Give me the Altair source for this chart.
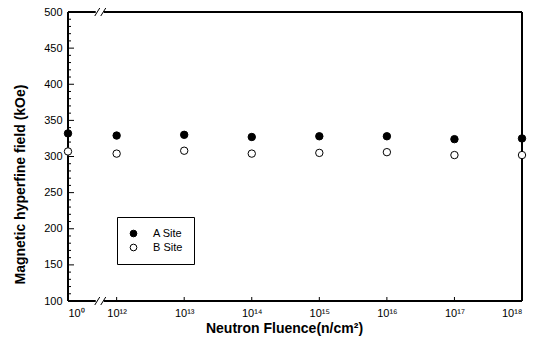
import altair as alt
import pandas as pd

# ---- data ----
tick_positions = [11.28, 12, 13, 14, 15, 16, 17, 18]
tick_labels = ["10⁰", "10¹²", "10¹³", "10¹⁴", "10¹⁵", "10¹⁶", "10¹⁷", "10¹⁸"]
a_site = [332, 329, 330, 327, 328, 328, 324, 325]
b_site = [307, 304, 308, 304, 305, 306, 302, 302]
y_major = [100, 150, 200, 250, 300, 350, 400, 450, 500]
y_minor = [v for v in range(110, 500, 10) if v % 50 != 0]
break_at = [11.75]

W, H = 454, 289
FONT = "Liberation Sans"

df = pd.DataFrame({
    "x": tick_positions * 2,
    "y": a_site + b_site,
    "site": ["A Site"] * len(a_site) + ["B Site"] * len(b_site),
})

xscale = alt.Scale(domain=[11.28, 18], nice=False, zero=False)
yscale = alt.Scale(domain=[100, 500], nice=False, zero=False)

label_expr = f"{tick_labels}[indexof({tick_positions}, datum.value)]"

xaxis = alt.Axis(values=tick_positions, labelExpr=label_expr, domain=False, ticks=False,
                 grid=False, title="Neutron Fluence(n/cm²)", labelPadding=6,
                 labelFont=FONT, labelFontSize=11, titleFont=FONT, titleFontSize=14,
                 titleFontWeight="bold", titlePadding=3, titleX=216,
                 labelColor="black", titleColor="black")
yaxis = alt.Axis(values=y_major, domain=False, ticks=False, grid=False,
                 title="Magnetic hyperfine field (kOe)", labelPadding=6,
                 labelFont=FONT, labelFontSize=11, titleFont=FONT, titleFontSize=14,
                 titleFontWeight="bold", titlePadding=16, titleY=172,
                 labelColor="black", titleColor="black")

xenc = alt.X("x:Q", scale=xscale, axis=xaxis)
yenc = alt.Y("y:Q", scale=yscale, axis=yaxis)

one = pd.DataFrame({"k": [0]})

frame_left = alt.Chart(one).mark_rule(color="black", strokeWidth=2).encode(
    x=alt.value(0), y=alt.value(0), y2=alt.value(H))
frame_right = alt.Chart(one).mark_rule(color="black", strokeWidth=2).encode(
    x=alt.value(W), y=alt.value(0), y2=alt.value(H))
frame_top = alt.Chart(one).mark_rule(color="black", strokeWidth=2).encode(
    y=alt.value(0), x=alt.value(0), x2=alt.value(W))
frame_bottom = alt.Chart(one).mark_rule(color="black", strokeWidth=2).encode(
    y=alt.value(H), x=alt.value(0), x2=alt.value(W))

brk = pd.DataFrame({"x": break_at})
gap_bottom = alt.Chart(brk).mark_rule(color="white", strokeWidth=6, xOffset=-4, x2Offset=4).encode(
    x=xenc, x2="x:Q", y=alt.value(H))
gap_top = alt.Chart(brk).mark_rule(color="white", strokeWidth=6, xOffset=-4, x2Offset=4).encode(
    x=xenc, x2="x:Q", y=alt.value(0))
slashes = []
for off in (-5, 1):
    for yb in (H, 0):
        slashes.append(
            alt.Chart(brk).mark_rule(color="black", strokeWidth=1, xOffset=off, x2Offset=off + 5).encode(
                x=xenc, x2="x:Q", y=alt.value(yb + 4), y2=alt.value(yb - 4)))

ymaj = pd.DataFrame({"y": y_major})
ymin = pd.DataFrame({"y": y_minor})
yticks_major = alt.Chart(ymaj).mark_rule(color="black", strokeWidth=1).encode(
    y=yenc, x=alt.value(0), x2=alt.value(6))
yticks_minor = alt.Chart(ymin).mark_rule(color="black", strokeWidth=1).encode(
    y=yenc, x=alt.value(0), x2=alt.value(3))
xt = pd.DataFrame({"x": tick_positions[1:]})
xticks = alt.Chart(xt).mark_rule(color="black", strokeWidth=1).encode(
    x=xenc, y=alt.value(H), y2=alt.value(H - 4))

points = alt.Chart(df).mark_point(filled=True, shape="circle", size=55, stroke="black",
                                  strokeWidth=1, opacity=1).encode(
    x=xenc, y=yenc,
    fill=alt.Fill("site:N",
                  scale=alt.Scale(domain=["A Site", "B Site"], range=["black", "white"]),
                  legend=alt.Legend(orient="none", legendX=49, legendY=205, title=None,
                                    padding=11, strokeColor="black", fillColor="white",
                                    labelFont=FONT, labelFontSize=11, labelColor="black",
                                    symbolType="circle", symbolSize=45,
                                    symbolStrokeColor="black", symbolStrokeWidth=1,
                                    labelOffset=14, rowPadding=2,
                                    labelExpr="datum.label + '\u00a0\u00a0\u00a0\u00a0\u00a0\u00a0'")),
)

chart = alt.layer(
    frame_left, frame_right, frame_top, frame_bottom,
    gap_bottom, gap_top, *slashes,
    yticks_major, yticks_minor, xticks, points,
).properties(
    width=W, height=H,
    padding={"left": 68, "top": 12, "right": 20, "bottom": 41},
    autosize=alt.AutoSizeParams(type="none"),
    background="white",
).configure_view(stroke=None)

chart.save("out.html", embed_options={"renderer": "svg", "actions": False})
